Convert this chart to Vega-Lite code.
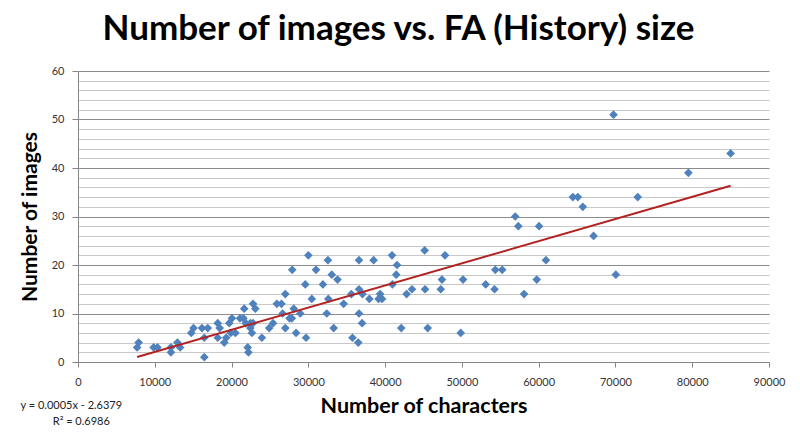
{
  "$schema": "https://vega.github.io/schema/vega-lite/v6.json",
  "width": 691,
  "height": 291,
  "autosize": "none",
  "padding": {"left": 78, "top": 71, "right": 31, "bottom": 79},
  "background": "white",
  "title": {
    "text": "Number of images vs. FA (History) size",
    "font": "Lato",
    "fontSize": 35,
    "fontWeight": "bold",
    "color": "black",
    "anchor": "middle",
    "dx": -25,
    "offset": 18
  },
  "config": {
    "view": {"stroke": null},
    "axis": {"labelFont": "Lato", "labelFontSize": 11, "labelColor": "#333333", "titleFont": "Lato", "titleFontSize": 21, "titleFontWeight": "bold", "titleColor": "black", "domainColor": "#868686", "tickColor": "#868686", "labelOverlap": false, "labelBound": false}
  },
  "datasets": {
    "points": [
      {"chars": 7700, "images": 3}, {"chars": 7900, "images": 4}, {"chars": 9850, "images": 3}, {"chars": 10350, "images": 3},
      {"chars": 12100, "images": 3}, {"chars": 12100, "images": 2}, {"chars": 12950, "images": 4}, {"chars": 13300, "images": 3},
      {"chars": 14750, "images": 6}, {"chars": 15050, "images": 7}, {"chars": 16150, "images": 7}, {"chars": 16900, "images": 7},
      {"chars": 16450, "images": 5}, {"chars": 16450, "images": 1}, {"chars": 18200, "images": 8}, {"chars": 18450, "images": 7},
      {"chars": 18200, "images": 5}, {"chars": 19050, "images": 4}, {"chars": 19300, "images": 5}, {"chars": 19700, "images": 8},
      {"chars": 20050, "images": 9}, {"chars": 19900, "images": 6}, {"chars": 20500, "images": 6}, {"chars": 21100, "images": 9},
      {"chars": 21650, "images": 11}, {"chars": 21550, "images": 9}, {"chars": 21850, "images": 8}, {"chars": 22450, "images": 8},
      {"chars": 22800, "images": 8}, {"chars": 22450, "images": 7}, {"chars": 22650, "images": 6}, {"chars": 22100, "images": 3},
      {"chars": 22200, "images": 2}, {"chars": 22800, "images": 12}, {"chars": 23100, "images": 11}, {"chars": 23950, "images": 5},
      {"chars": 24900, "images": 7}, {"chars": 25400, "images": 8}, {"chars": 25900, "images": 12}, {"chars": 26500, "images": 12},
      {"chars": 26650, "images": 10}, {"chars": 27000, "images": 14}, {"chars": 27000, "images": 7}, {"chars": 27550, "images": 9},
      {"chars": 27850, "images": 9}, {"chars": 27900, "images": 19}, {"chars": 28100, "images": 11}, {"chars": 28400, "images": 6},
      {"chars": 28950, "images": 10}, {"chars": 29600, "images": 16}, {"chars": 29700, "images": 5}, {"chars": 30000, "images": 22},
      {"chars": 30450, "images": 13}, {"chars": 31000, "images": 19}, {"chars": 31900, "images": 16}, {"chars": 32400, "images": 10},
      {"chars": 32550, "images": 21}, {"chars": 32600, "images": 13}, {"chars": 33050, "images": 18}, {"chars": 33300, "images": 7},
      {"chars": 33800, "images": 17}, {"chars": 34600, "images": 12}, {"chars": 35600, "images": 14}, {"chars": 35750, "images": 5},
      {"chars": 36500, "images": 4}, {"chars": 36600, "images": 21}, {"chars": 36600, "images": 15}, {"chars": 36600, "images": 10},
      {"chars": 37000, "images": 8}, {"chars": 37050, "images": 14}, {"chars": 37950, "images": 13}, {"chars": 38500, "images": 21},
      {"chars": 39150, "images": 13}, {"chars": 39350, "images": 14}, {"chars": 39600, "images": 13}, {"chars": 40900, "images": 22},
      {"chars": 40950, "images": 16}, {"chars": 41550, "images": 20}, {"chars": 41450, "images": 18}, {"chars": 42100, "images": 7},
      {"chars": 42800, "images": 14}, {"chars": 43500, "images": 15}, {"chars": 45150, "images": 23}, {"chars": 45200, "images": 15},
      {"chars": 45550, "images": 7}, {"chars": 47250, "images": 15}, {"chars": 47400, "images": 17}, {"chars": 47800, "images": 22},
      {"chars": 49850, "images": 6}, {"chars": 50150, "images": 17}, {"chars": 53100, "images": 16}, {"chars": 54250, "images": 15},
      {"chars": 54350, "images": 19}, {"chars": 55250, "images": 19}, {"chars": 56950, "images": 30}, {"chars": 57350, "images": 28},
      {"chars": 58100, "images": 14}, {"chars": 59750, "images": 17}, {"chars": 60050, "images": 28}, {"chars": 60950, "images": 21},
      {"chars": 64450, "images": 34}, {"chars": 65100, "images": 34}, {"chars": 65750, "images": 32}, {"chars": 67150, "images": 26},
      {"chars": 69750, "images": 51}, {"chars": 70050, "images": 18}, {"chars": 72900, "images": 34}, {"chars": 79500, "images": 39},
      {"chars": 85000, "images": 43}
    ],
    "notes": [
      {"chars": -870, "images": -9.1, "label": "y = 0.0005x - 2.6379"},
      {"chars": 430, "images": -12.4, "label": "R² = 0.6986"}
    ]
  },
  "layer": [
    {
      "data": {"name": "points"},
      "mark": {"type": "point", "shape": "diamond", "filled": true, "size": 75, "color": "#4F81BD", "opacity": 1},
      "encoding": {
        "x": {
          "field": "chars", "type": "quantitative",
          "scale": {"domain": [0, 90000], "nice": false, "zero": true},
          "axis": {"title": "Number of characters", "titleFontSize": 21.5, "values": [0, 10000, 20000, 30000, 40000, 50000, 60000, 70000, 80000, 90000], "tickCount": 100, "format": "d", "grid": false, "tickSize": 5, "labelPadding": 9, "titlePadding": 8, "labelFlush": false}
        },
        "y": {
          "field": "images", "type": "quantitative",
          "scale": {"domain": [0, 60], "nice": false},
          "axis": {
            "title": "Number of images",
            "values": [0, 2, 4, 6, 8, 10, 12, 14, 16, 18, 20, 22, 24, 26, 28, 30, 32, 34, 36, 38, 40, 42, 44, 46, 48, 50, 52, 54, 56, 58, 60],
            "tickCount": 100,
            "format": "d",
            "labelExpr": "datum.value % 10 === 0 ? datum.label : ''",
            "grid": true,
            "gridColor": {"condition": {"test": "datum.value % 10 === 0", "value": "#8C8C8C"}, "value": "#C8C8C8"},
            "gridWidth": 1,
            "tickSize": {"condition": {"test": "datum.value % 10 === 0", "value": 6}, "value": 0},
            "labelPadding": 8,
            "titlePadding": 11,
            "labelFlush": false
          }
        }
      }
    },
    {
      "data": {"name": "points"},
      "transform": [{"regression": "images", "on": "chars"}],
      "mark": {"type": "line", "color": "#B22222", "strokeWidth": 2},
      "encoding": {
        "x": {"field": "chars", "type": "quantitative"},
        "y": {"field": "images", "type": "quantitative"}
      }
    },
    {
      "data": {"name": "notes"},
      "mark": {"type": "text", "font": "Lato", "fontSize": 11, "color": "#222222", "align": "center", "baseline": "middle", "clip": false},
      "encoding": {
        "x": {"field": "chars", "type": "quantitative"},
        "y": {"field": "images", "type": "quantitative"},
        "text": {"field": "label"}
      }
    }
  ]
}
